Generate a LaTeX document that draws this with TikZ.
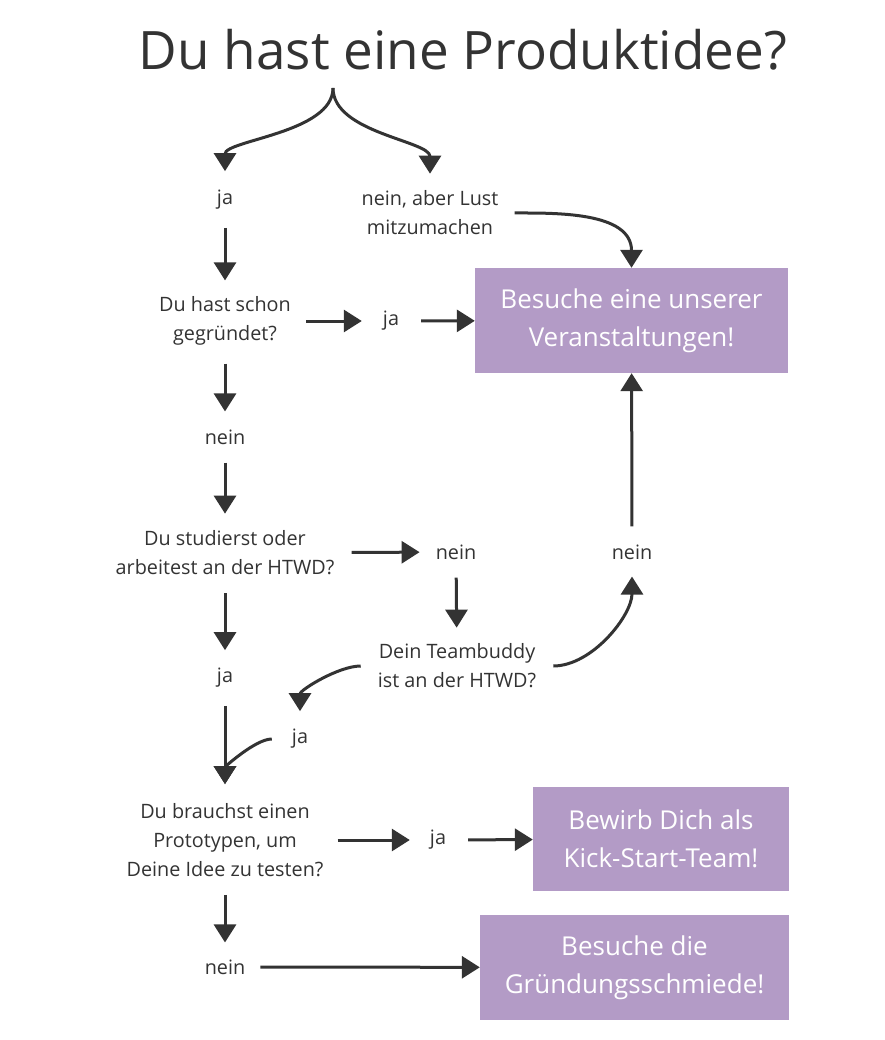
\documentclass[tikz,border=0pt]{standalone}
\usepackage{fontspec}
\setmainfont{Open Sans}
\usetikzlibrary{arrows.meta}
\definecolor{boxbg}{RGB}{179,155,198}
\definecolor{ink}{RGB}{51,51,51}

\begin{document}
\begin{tikzpicture}
    [x=1pt, y=-1pt,
    question/.style={text=ink, align=center, inner sep=0pt, font=\fontsize{19.8}{29}\selectfont},
    goal/.style={rectangle, fill=boxbg, text=white, align=center, inner sep=0pt,
    font=\fontsize{26}{38}\selectfont},
    arrow/.style={draw=ink, line width=3pt, -{Triangle[length=18pt, width=22pt]},
    shorten <=18pt, shorten >=18pt}]
    \useasboundingbox [fill=white] (0,0) rectangle (884,1040);
    \node [text=ink, font=\fontsize{53}{62}\selectfont] (title) at (463,50) {Du hast eine Produktidee?};
    \coordinate (split) at (333,88);
    \node [question] (ja1) at (225,200) {ja};
    \node [question] (lust) at (430,213) {nein, aber Lust\\mitzumachen};
    \node [goal, minimum width=313pt, minimum height=105pt] (events) at (631.5,320.5)
    {Besuche eine unserer\\Veranstaltungen!};
    \node [question] (gegr) at (225,321) {Du hast schon\\gegründet?};
    \node [question] (ja2) at (391,321) {ja};
    \node [question] (nein1) at (225,437) {nein};
    \node [question] (studi) at (225,553) {Du studierst oder\\arbeitest an der HTWD?};
    \node [question] (nein2) at (456,552) {nein};
    \node [question] (nein3) at (632,552) {nein};
    \node [question] (buddy) at (457,666) {Dein Teambuddy\\ist an der HTWD?};
    \node [question] (ja3) at (225,678) {ja};
    \node [question] (ja4) at (300,739) {ja};
    \node [question] (proto) at (225,840) {Du brauchst einen\\Prototypen, um\\Deine Idee zu testen?};
    \node [question] (ja5) at (438,840) {ja};
    \node [goal, minimum width=256pt, minimum height=104pt] (kick) at (661,839)
    {Bewirb Dich als\\Kick-Start-Team!};
    \node [question] (nein4) at (225,967) {nein};
    \node [goal, minimum width=309pt, minimum height=105pt] (schmiede) at (634.5,967.5)
    {Besuche die\\Gründungsschmiede!};

    \draw [arrow, shorten <=0pt, shorten >=19pt] (split) .. controls +(0,45) and +(0,-50) .. (ja1.north);
    \draw [arrow, shorten <=0pt, shorten >=17pt] (split) .. controls +(0,45) and +(0,-50) .. (lust.north);
    \draw [arrow, shorten <=16pt, shorten >=0pt] (lust.east) to [out=0, in=90] (events.north);
    \draw [arrow, shorten >=16pt] (ja1) -- (gegr);
    \draw [arrow, shorten <=15pt, shorten >=21pt] (gegr) -- (ja2);
    \draw [arrow, shorten <=22pt, shorten >=0pt] (ja2) -- (events);
    \draw [arrow] (gegr) -- (nein1);
    \draw [arrow, shorten >=17pt] (nein1) -- (studi);
    \draw [arrow, shorten <=17pt, shorten >=16pt] (studi) -- (nein2);
    \draw [arrow, shorten >=16pt] (nein2) -- (buddy);
    \draw [arrow, shorten <=17pt, shorten >=17pt] (buddy.east) to [out=0, in=-90] (nein3.south);
    \draw [arrow, shorten >=0pt] (nein3) -- (events);
    \draw [arrow, shorten <=17pt, shorten >=18pt] (buddy.west) to [out=180, in=90] (ja4.north);
    \draw [arrow] (studi) -- (ja3);
    \draw [arrow, shorten >=19pt] (ja3) -- (proto);
    \draw [arrow, shorten <=20pt, shorten >=19pt] (ja4.west) to [out=180, in=90] (proto.north);
    \draw [arrow, shorten <=14pt, shorten >=20pt] (proto) -- (ja5);
    \draw [arrow, shorten <=22pt, shorten >=0pt] (ja5) -- (kick);
    \draw [arrow, shorten >=17pt] (proto) -- (nein4);
    \draw [arrow, shorten <=15pt, shorten >=0pt] (nein4) -- (schmiede);
  \end{tikzpicture}
\end{document}
